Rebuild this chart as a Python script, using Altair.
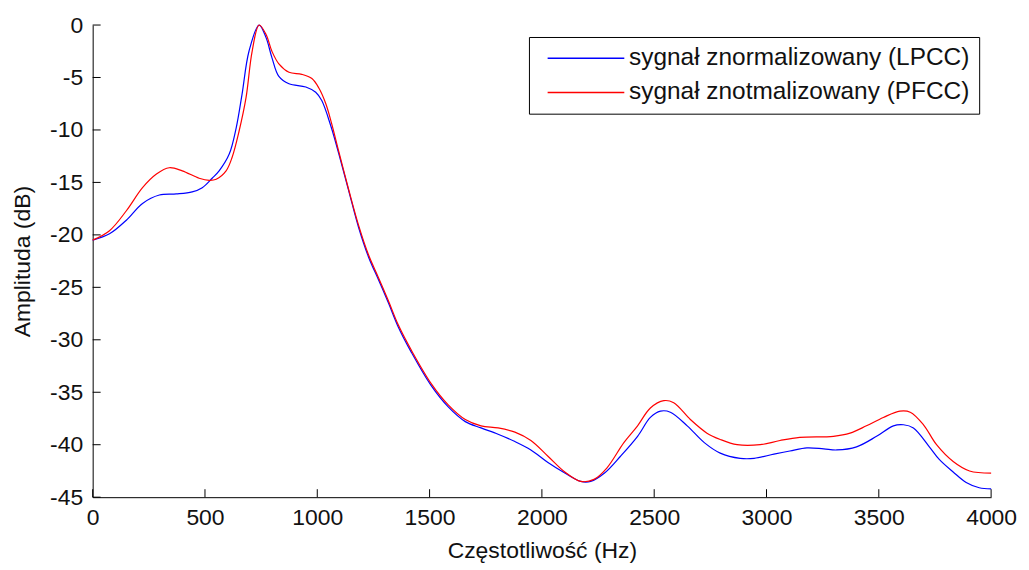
import altair as alt
import pandas as pd

series_names = ["sygnał znormalizowany (LPCC)", "sygnał znotmalizowany (PFCC)"]
series_colors = ["#0000ff", "#ff0000"]

lpcc_hz = [0, 75, 150, 222, 297, 372, 443, 488, 532, 563, 608, 639, 665, 696, 741, 772, 798,
           829, 874, 949, 993, 1020, 1060, 1095, 1140, 1184, 1228, 1273, 1317, 1361, 1419, 1508,
           1583, 1659, 1729, 1805, 1880, 1951, 2027, 2102, 2173, 2217, 2279, 2350, 2426, 2483,
           2528, 2572, 2647, 2723, 2794, 2883, 2945, 3033, 3104, 3180, 3255, 3313, 3401, 3490,
           3565, 3610, 3654, 3725, 3769, 3831, 3889, 3947, 4000]
lpcc_db = [-20.5, -19.9, -18.6, -17.0, -16.2, -16.1, -15.9, -15.5, -14.6, -13.9, -12.3, -9.8,
           -6.6, -2.5, 0.0, -1.2, -3.1, -4.9, -5.6, -5.9, -6.4, -7.2, -9.6, -12.2, -15.8, -19.3,
           -22.1, -24.3, -26.5, -28.8, -31.2, -34.4, -36.4, -37.8, -38.4, -39.0, -39.7, -40.5,
           -41.7, -42.7, -43.5, -43.5, -42.7, -41.1, -39.2, -37.4, -36.8, -36.9, -38.2, -39.8,
           -40.8, -41.3, -41.3, -40.9, -40.6, -40.3, -40.4, -40.5, -40.2, -39.2, -38.2, -38.1,
           -38.4, -40.2, -41.4, -42.6, -43.6, -44.1, -44.2]

pfcc_hz = [0, 75, 150, 222, 284, 341, 399, 474, 519, 550, 594, 621, 652, 683, 710, 741, 772,
           798, 829, 874, 931, 976, 1007, 1038, 1064, 1095, 1140, 1184, 1228, 1273, 1317, 1361,
           1419, 1508, 1583, 1659, 1729, 1805, 1880, 1951, 2027, 2102, 2173, 2232, 2290, 2365,
           2426, 2483, 2543, 2587, 2661, 2735, 2794, 2869, 2972, 3060, 3148, 3298, 3372, 3445,
           3520, 3594, 3640, 3699, 3757, 3831, 3904, 4000]
pfcc_db = [-20.5, -19.6, -17.7, -15.5, -14.2, -13.6, -13.9, -14.6, -14.8, -14.7, -13.9, -12.6,
           -10.1, -6.9, -2.5, 0.0, -0.9, -2.5, -3.7, -4.5, -4.7, -5.1, -6.0, -7.5, -9.4, -12.0,
           -15.7, -19.1, -21.9, -24.1, -26.3, -28.6, -31.0, -34.2, -36.2, -37.6, -38.2, -38.4,
           -38.8, -39.6, -41.1, -42.6, -43.5, -43.3, -42.2, -39.8, -38.2, -36.5, -35.8, -36.0,
           -37.6, -38.9, -39.5, -40.0, -40.0, -39.6, -39.3, -39.2, -38.9, -38.2, -37.4, -36.8,
           -36.9, -38.1, -40.0, -41.6, -42.5, -42.7]

x_ticks = [0, 500, 1000, 1500, 2000, 2500, 3000, 3500, 4000]
y_ticks = [0, -5, -10, -15, -20, -25, -30, -35, -40, -45]

W, H = 902, 474
FONT = "Liberation Sans"

df = pd.concat([
    pd.DataFrame({"hz": lpcc_hz, "db": lpcc_db, "series": series_names[0], "order": range(len(lpcc_hz))}),
    pd.DataFrame({"hz": pfcc_hz, "db": pfcc_db, "series": series_names[1], "order": range(len(pfcc_hz))}),
])

xscale = alt.Scale(domain=[0, 4000], nice=False, zero=False)
yscale = alt.Scale(domain=[-45, 0], nice=False, zero=False)

lines = alt.Chart(df).mark_line(strokeWidth=1.2, interpolate="catmull-rom").encode(
    x=alt.X("hz:Q", scale=xscale,
            axis=alt.Axis(title="Częstotliwość (Hz)", values=x_ticks, tickSize=0,
                          labelExpr="'' + datum.value", labelFlush=False,
                          labelPadding=9, titlePadding=11, grid=False)),
    y=alt.Y("db:Q", scale=yscale,
            axis=alt.Axis(title="Amplituda (dB)", values=y_ticks, tickSize=0,
                          labelExpr="'' + datum.value", labelFlush=False,
                          labelPadding=10, titlePadding=15, grid=False)),
    color=alt.Color("series:N",
                    scale=alt.Scale(domain=series_names, range=series_colors),
                    legend=alt.Legend(title=None, orient="none", legendX=438, legendY=12,
                                      symbolType="M-5,0H5", symbolSize=237,
                                      symbolStrokeWidth=1.5,
                                      labelFontSize=24.5, labelFont=FONT, labelColor="#111",
                                      padding=9, symbolOffset=36, labelOffset=31, rowPadding=9.5,
                                      strokeColor="#000", fillColor="#fff", labelLimit=600)),
    order="order:Q",
)

xt = alt.Chart(pd.DataFrame({"t": x_ticks})).mark_rule(color="#000", strokeWidth=1).encode(
    x=alt.X("t:Q", scale=xscale), y=alt.value(H), y2=alt.value(H - 8))
yt = alt.Chart(pd.DataFrame({"t": y_ticks})).mark_rule(color="#000", strokeWidth=1).encode(
    y=alt.Y("t:Q", scale=yscale), x=alt.value(0), x2=alt.value(8))

chart = alt.layer(lines, xt, yt).properties(
    width=W, height=H,
    autosize=alt.AutoSizeParams(type="none"),
    padding={"left": 85, "top": 16, "right": 30, "bottom": 70},
).configure_view(stroke=None).configure_axis(
    domainColor="#000", domainWidth=1, labelFont=FONT, titleFont=FONT,
    labelFontSize=23, titleFontSize=23, labelColor="#111", titleColor="#111",
    titleFontWeight="normal",
).configure_axisX(labelBaseline="top").configure_axisY(labelAlign="right")

chart.save("out.html", embed_options={"renderer": "svg", "actions": False})
